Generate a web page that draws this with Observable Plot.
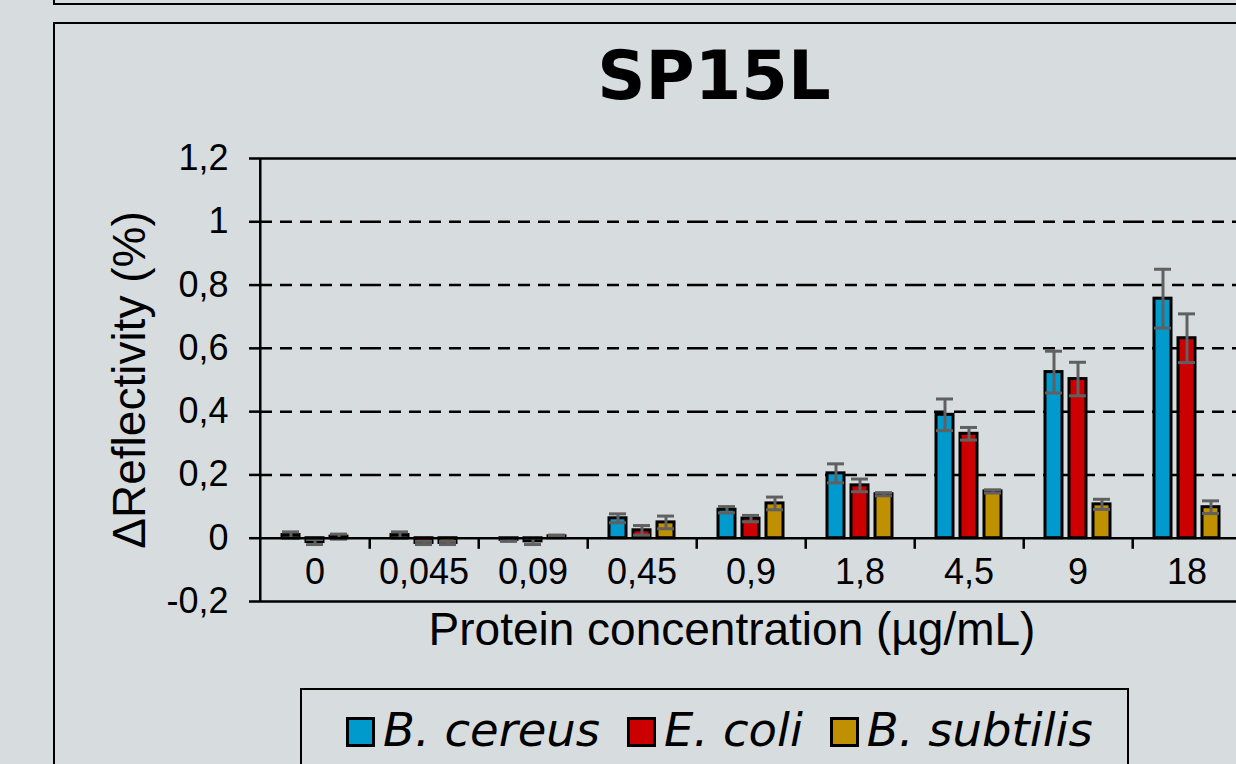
<!DOCTYPE html>
<html>
<head>
<meta charset="utf-8">
<script src="https://cdn.jsdelivr.net/npm/d3@7"></script>
<script src="https://cdn.jsdelivr.net/npm/@observablehq/plot@0.6"></script>
<style>
  html, body { margin: 0; padding: 0; }
  body { width: 1236px; height: 764px; overflow: hidden; position: relative; background: #d7dcdf; font-family: "Liberation Sans", Arial, sans-serif; }
  .topframe { position: absolute; left: 53px; top: -40px; width: 1400px; height: 45px; border: 2px solid #000; box-sizing: border-box; }
  .panel { position: absolute; left: 53px; top: 22px; width: 1400px; height: 900px; border: 2px solid #000; box-sizing: border-box; }
  .title { position: absolute; left: 0; width: 1428px; top: 43px; text-align: center; font-family: "DejaVu Sans", sans-serif; font-weight: bold; font-size: 67px; line-height: 67px; color: #000; }
  #chart { position: absolute; left: 0; top: 0; }
  .legend { position: absolute; left: 300px; top: 688px; width: 829px; height: 120px; border: 2px solid #000; box-sizing: border-box; padding: 18px 0 0 44px; display: flex; align-items: flex-start; }
  .item { display: flex; align-items: flex-start; margin-right: 27px; }
  .sw { width: 29px; height: 30px; border: 3px solid #000; box-sizing: border-box; margin-top: 9px; margin-right: 8px; }
  .lab { font-family: "DejaVu Sans", sans-serif; font-style: italic; font-size: 46.5px; line-height: 45px; color: #000; white-space: nowrap; }
</style>
</head>
<body>
<div class="topframe"></div>
<div class="panel"></div>
<div class="title">SP15L</div>
<div id="chart"></div>
<div class="legend" id="legend"></div>
<script>
// ---- data ----
const categories = ["0", "0,045", "0,09", "0,45", "0,9", "1,8", "4,5", "9", "18"];
const series = ["B. cereus", "E. coli", "B. subtilis"];
const colors = ["#009acd", "#cc0000", "#bf9000"];
const cereus      = [0.010, 0.010, -0.005, 0.063, 0.090, 0.205, 0.390, 0.525, 0.757];
const cereusErr   = [0.010, 0.010, 0.005, 0.014, 0.010, 0.030, 0.050, 0.066, 0.093];
const coli        = [-0.012, -0.015, -0.010, 0.025, 0.062, 0.167, 0.330, 0.503, 0.632];
const coliErr     = [0.008, 0.005, 0.010, 0.015, 0.010, 0.020, 0.020, 0.053, 0.077];
const subtilis    = [0.005, -0.015, 0.006, 0.050, 0.110, 0.139, 0.148, 0.107, 0.098];
const subtilisErr = [0.008, 0.005, 0.004, 0.020, 0.020, 0.005, 0.005, 0.016, 0.020];
const yTicks = [-0.2, 0, 0.2, 0.4, 0.6, 0.8, 1, 1.2];
const yTickLabels = ["-0,2", "0", "0,2", "0,4", "0,6", "0,8", "1", "1,2"];
const gridDashed = [0.2, 0.4, 0.6, 0.8, 1];
const gridSolid = [-0.2, 1.2];
const yTitle = "ΔReflectivity (%)";
const xTitle = "Protein concentration (µg/mL)";

const values = [cereus, coli, subtilis];
const errors = [cereusErr, coliErr, subtilisErr];
const rows = [];
categories.forEach((c, ci) => series.forEach((s, si) => {
  rows.push({cat: c, series: s, value: values[si][ci], err: errors[si][ci]});
}));

// ---- layout ----
const W = 1250, H = 764;
const mL = 258, mR = 7, mT = 158, mB = 163;
const bandW = (W - mL - mR) / categories.length;
const errColor = "#606060";

const chart = Plot.plot({
  width: W, height: H,
  marginLeft: mL, marginRight: mR, marginTop: mT, marginBottom: mB,
  style: {background: "transparent", maxWidth: "none", overflow: "visible", fontFamily: "Liberation Sans, Arial, sans-serif", fontSize: "36px", color: "#000"},
  fx: {domain: categories, paddingInner: 0, paddingOuter: 0, axis: null},
  x: {domain: series, paddingInner: 0.28, paddingOuter: 0.83, axis: null},
  y: {domain: [-0.2, 1.2], axis: null},
  color: {domain: series, range: colors},
  marks: [
    Plot.ruleY(gridDashed, {stroke: "#000", strokeWidth: 2.5, strokeDasharray: "12,8"}),
    Plot.ruleY(gridSolid, {stroke: "#000", strokeWidth: 2.5}),
    Plot.barY(rows, {fx: "cat", x: "series", y: "value", fill: "series", stroke: "#000", strokeWidth: 3}),
    Plot.ruleX(rows, {fx: "cat", x: "series", y1: d => d.value - d.err, y2: d => d.value + d.err, stroke: errColor, strokeWidth: 3}),
    Plot.tickY(rows, {fx: "cat", x: "series", y: d => d.value + d.err, stroke: errColor, strokeWidth: 3}),
    Plot.tickY(rows, {fx: "cat", x: "series", y: d => d.value - d.err, stroke: errColor, strokeWidth: 3}),
    Plot.ruleY([0], {stroke: "#000", strokeWidth: 2.5}),
    // category separator ticks below the zero line
    Plot.ruleX(categories, {fx: d => d, x: null, y1: 0, y2: -0.035, dx: bandW / 2, stroke: "#000", strokeWidth: 2.5}),
    // y axis line (first facet only)
    Plot.ruleX([categories[0]], {fx: d => d, x: null, y1: -0.2, y2: 1.2, dx: -bandW / 2, stroke: "#000", strokeWidth: 2.5}),
    Plot.axisY({ticks: yTicks, tickFormat: d => yTickLabels[yTicks.indexOf(d)], tickSize: 11, tickPadding: 21, strokeWidth: 2.5, fontSize: 36, label: null}),
    // category labels
    Plot.text(categories, {fx: d => d, text: d => d, frameAnchor: "bottom", dy: -18, fontSize: 36, fill: "#000"}),
    // axis titles
    Plot.text([yTitle], {fx: () => categories[0], text: d => d, frameAnchor: "left", dx: -130, rotate: -90, textAnchor: "middle", fontSize: 46, fill: "#000"}),
    Plot.text([xTitle], {fx: () => categories[0], text: d => d, frameAnchor: "bottom-left", dx: 471.5, dy: 11, textAnchor: "middle", lineAnchor: "top", fontSize: 46, fill: "#000"})
  ]
});
document.getElementById("chart").appendChild(chart);

// ---- legend ----
const lg = document.getElementById("legend");
series.forEach((s, i) => {
  const it = document.createElement("div");
  it.className = "item";
  const sw = document.createElement("div");
  sw.className = "sw";
  sw.style.background = colors[i];
  const lb = document.createElement("div");
  lb.className = "lab";
  lb.textContent = s;
  it.appendChild(sw); it.appendChild(lb);
  lg.appendChild(it);
});
</script>
</body>
</html>
